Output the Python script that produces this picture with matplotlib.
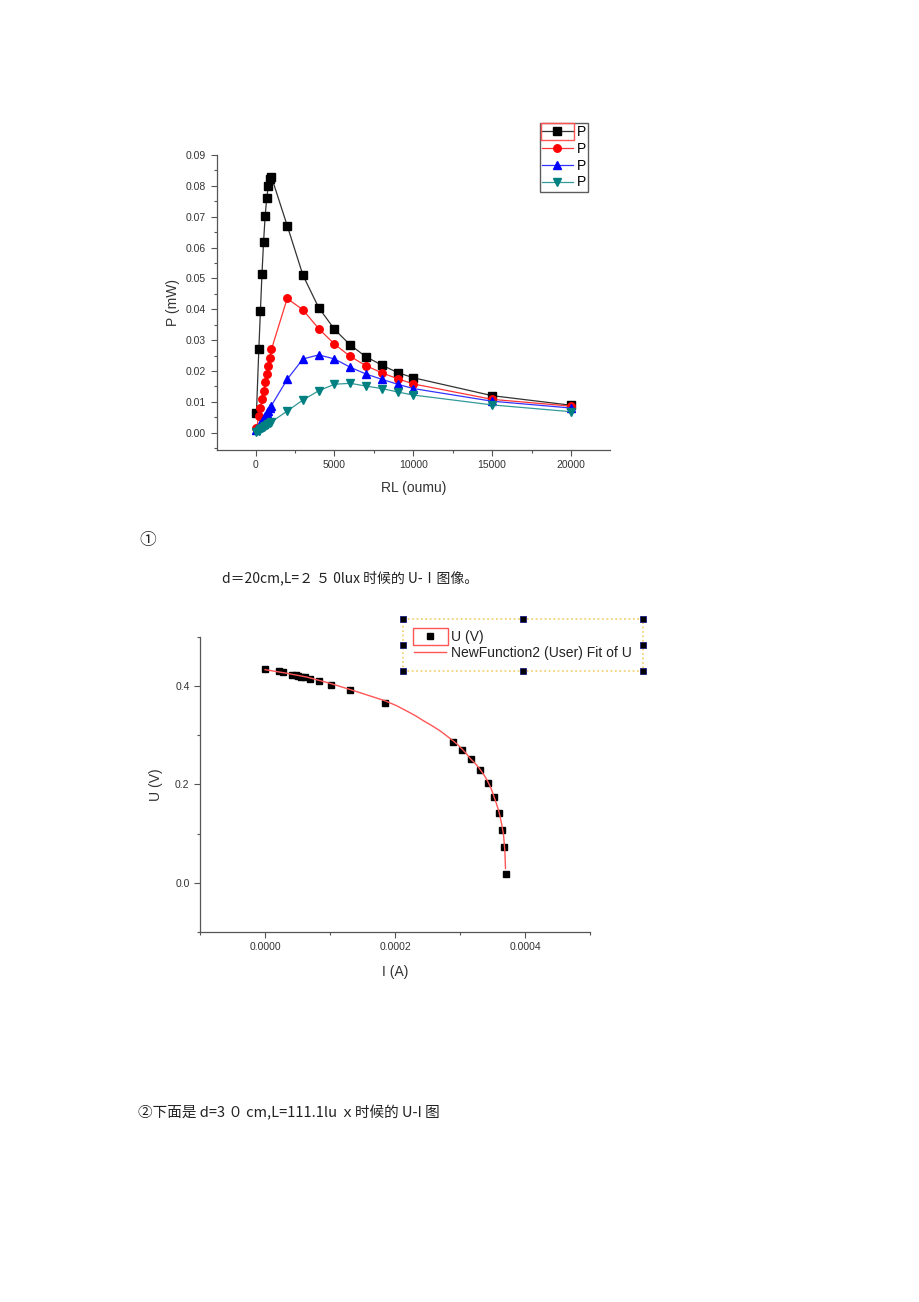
import matplotlib
matplotlib.use("Agg")
import matplotlib.pyplot as plt
from matplotlib.ticker import MultipleLocator, FormatStrFormatter
from matplotlib.lines import Line2D
from matplotlib.patches import Rectangle

plt.rcParams['font.family'] = ['Liberation Sans', 'DejaVu Sans']

# region data
# P-RL curves (four light intensities)
RL = [50, 200, 300, 400, 500, 600, 700, 800, 900, 1000,
      2000, 3000, 4000, 5000, 6000, 7000, 8000, 9000, 10000, 15000, 20000]
P_black = [0.0065, 0.0270, 0.0394, 0.0515, 0.0618, 0.0701, 0.0760, 0.0799, 0.0821, 0.0829,
           0.0671, 0.0510, 0.0405, 0.0335, 0.0284, 0.0246, 0.0219, 0.0195, 0.0178, 0.0120, 0.0089]
P_red = [0.0014, 0.0054, 0.0081, 0.0110, 0.0136, 0.0163, 0.0190, 0.0217, 0.0243, 0.0270,
         0.0435, 0.0398, 0.0337, 0.0287, 0.0247, 0.0217, 0.0194, 0.0175, 0.0158, 0.0108, 0.0086]
P_blue = [0.0009, 0.0018, 0.0027, 0.0036, 0.0045, 0.0054, 0.0063, 0.0071, 0.0079, 0.0088,
          0.0173, 0.0239, 0.0252, 0.0239, 0.0212, 0.0190, 0.0173, 0.0157, 0.0143, 0.0102, 0.0080]
P_teal = [0.0003, 0.0007, 0.0011, 0.0015, 0.0019, 0.0022, 0.0026, 0.0029, 0.0032, 0.0035,
          0.0070, 0.0106, 0.0136, 0.0157, 0.0160, 0.0151, 0.0143, 0.0132, 0.0122, 0.0090, 0.0068]

# U-I measurement
I_meas = [0.0, 0.000021, 0.000028, 0.000042, 0.000047, 0.000051, 0.000056, 0.000062, 0.000069,
          0.000083, 0.0001015, 0.0001303, 0.0001841, 0.0002887, 0.0003026, 0.0003164,
          0.0003303, 0.0003426, 0.0003523, 0.0003595, 0.0003641, 0.0003682, 0.0003708]
U_meas = [0.435, 0.430, 0.428, 0.423, 0.422, 0.420, 0.419, 0.418, 0.415,
          0.410, 0.402, 0.391, 0.365, 0.287, 0.270, 0.251,
          0.230, 0.203, 0.174, 0.142, 0.108, 0.072, 0.017]

# fitted curve
I_fit = [0.0, 0.000032, 0.000064, 0.000098, 0.00013, 0.000156, 0.000184, 0.000202, 0.000218,
         0.000232, 0.000244, 0.000257, 0.000269, 0.000279, 0.000289, 0.000296, 0.000303,
         0.00031, 0.000316, 0.000323, 0.00033, 0.000337, 0.000343, 0.000348, 0.000352,
         0.000356, 0.00036, 0.000364, 0.000367, 0.000369, 0.00037]
U_fit = [0.433, 0.426, 0.418, 0.406, 0.393, 0.382, 0.370, 0.360, 0.349,
         0.339, 0.329, 0.319, 0.309, 0.299, 0.289, 0.281, 0.272,
         0.262, 0.252, 0.243, 0.232, 0.219, 0.205, 0.191, 0.176,
         0.161, 0.144, 0.120, 0.097, 0.065, 0.029]
# endregion

fig = plt.figure(figsize=(9.2, 13.02), dpi=100)

# top chart
ax1 = fig.add_axes([0.2355, 0.6544, 0.4275, 0.2266])
styles = [(P_black, '#000000', '#333333', 's', 5.2),
          (P_red, '#ff0000', '#ff3333', 'o', 5.4),
          (P_blue, '#0000ff', '#3333ff', '^', 5.6),
          (P_teal, '#008080', '#339999', 'v', 5.6)]
for vals, mc, lc, mk, ms in styles:
    ax1.plot(RL, vals, color=lc, lw=0.9, marker=mk, ms=ms, mfc=mc, mec=mc, label='P')

ax1.set_xlim(-2475, 22475)
ax1.set_ylim(-0.0056, 0.09)
ax1.xaxis.set_major_locator(MultipleLocator(5000))
ax1.xaxis.set_minor_locator(MultipleLocator(2500))
ax1.yaxis.set_major_locator(MultipleLocator(0.01))
ax1.yaxis.set_minor_locator(MultipleLocator(0.005))
ax1.yaxis.set_major_formatter(FormatStrFormatter('%.2f'))
ax1.set_xlabel('RL (oumu)', fontsize=10, color='#333333', labelpad=8)
ax1.set_ylabel('P (mW)', fontsize=10, color='#333333', labelpad=4)

leg1 = ax1.legend(loc='upper left', bbox_to_anchor=(540 / 920, 1 - 123 / 1302),
                  bbox_transform=fig.transFigure, fontsize=10, handlelength=2.2,
                  labelspacing=0.2, handletextpad=0.3, borderpad=0.15, borderaxespad=0,
                  fancybox=False, frameon=True, edgecolor='#333333')
leg1.get_frame().set_linewidth(1.0)

# bottom chart
ax2 = fig.add_axes([0.2174, 0.2842, 0.4239, 0.2268])
ax2.plot(I_meas, U_meas, ls='none', marker='s', ms=4.6, color='black', label='U (V)')
ax2.plot(I_fit, U_fit, color='#ff5555', lw=1.0, label='NewFunction2 (User) Fit of U')
ax2.set_xlim(-0.0001, 0.0005)
ax2.set_ylim(-0.1, 0.5)
ax2.xaxis.set_major_locator(MultipleLocator(0.0002))
ax2.xaxis.set_minor_locator(MultipleLocator(0.0001))
ax2.xaxis.set_major_formatter(FormatStrFormatter('%.4f'))
ax2.yaxis.set_major_locator(MultipleLocator(0.2))
ax2.yaxis.set_minor_locator(MultipleLocator(0.1))
ax2.yaxis.set_major_formatter(FormatStrFormatter('%.1f'))
ax2.set_xlabel('I (A)', fontsize=10, color='#333333', labelpad=9)
ax2.set_ylabel('U (V)', fontsize=10, color='#333333', labelpad=9)

leg2 = ax2.legend(loc='upper left', bbox_to_anchor=(403 / 920, 1 - 619 / 1302),
                  bbox_transform=fig.transFigure, fontsize=10, handlelength=2.3,
                  labelspacing=0.1, handletextpad=0.35, borderpad=0.8, borderaxespad=0,
                  fancybox=False, frameon=True, edgecolor='#f0c040', markerscale=0.8)
leg2.get_frame().set_linestyle(':')
leg2.get_frame().set_linewidth(1.2)
for txt in leg2.get_texts():
    txt.set_color('#222222')

for ax in (ax1, ax2):
    for side in ('top', 'right'):
        ax.spines[side].set_visible(False)
    for side in ('left', 'bottom'):
        ax.spines[side].set_color('#555555')
        ax.spines[side].set_linewidth(0.9)
    ax.tick_params(which='major', direction='out', length=4, width=0.8, color='#555555',
                   labelsize=7.5, labelcolor='#333333')
    ax.tick_params(which='minor', direction='out', length=2.5, width=0.8, color='#555555')

# texts between the charts
cjk = ['Noto Sans CJK SC', 'DejaVu Sans']
fig.text(139 / 920, 1 - 540 / 1302, '①', fontsize=12, family=cjk, va='center', color='#222222')
fig.text(222 / 920, 1 - 578 / 1302, 'd＝20cm,L=２ ５ 0lux 时候的 U-Ⅰ图像。', fontsize=10,
         family=cjk, va='center', color='#222222')
fig.text(138 / 920, 1 - 1113 / 1302, '②下面是 d=3 ０ cm,L=111.1lu ｘ时候的 U-I 图', fontsize=10.5,
         family=cjk, va='center', color='#222222')

# highlight rectangles round the first legend handle, and selection handles
fig.canvas.draw()
rend = fig.canvas.get_renderer()
inv = fig.transFigure.inverted()
for leg in (leg1, leg2):
    fr = leg.get_frame().get_window_extent(rend)
    t = leg.get_texts()[0].get_window_extent(rend)
    pad = leg.borderpad * leg._fontsize * 100 / 72
    x0 = fr.x0 + pad - 1
    x1 = t.x0 - 3
    y0 = t.y0 - 1
    y1 = t.y1 + 2
    (fx0, fy0), (fx1, fy1) = inv.transform([(x0, y0), (x1, y1)])
    fig.add_artist(Rectangle((fx0, fy0), fx1 - fx0, fy1 - fy0,
                             transform=fig.transFigure, fill=False, ec='#ff5555', lw=1.0))

fb = leg2.get_frame().get_window_extent(rend).transformed(inv)
hx = [fb.x0, (fb.x0 + fb.x1) / 2, fb.x1]
hy = [fb.y0, (fb.y0 + fb.y1) / 2, fb.y1]
for xx in hx:
    for yy in hy:
        if xx == hx[1] and yy == hy[1]:
            continue
        fig.add_artist(Line2D([xx], [yy], transform=fig.transFigure, marker='s', ms=5,
                              mfc='black', mec='#1a1a80', mew=0.6, ls='none'))

fig.savefig('out.png', dpi=100)
